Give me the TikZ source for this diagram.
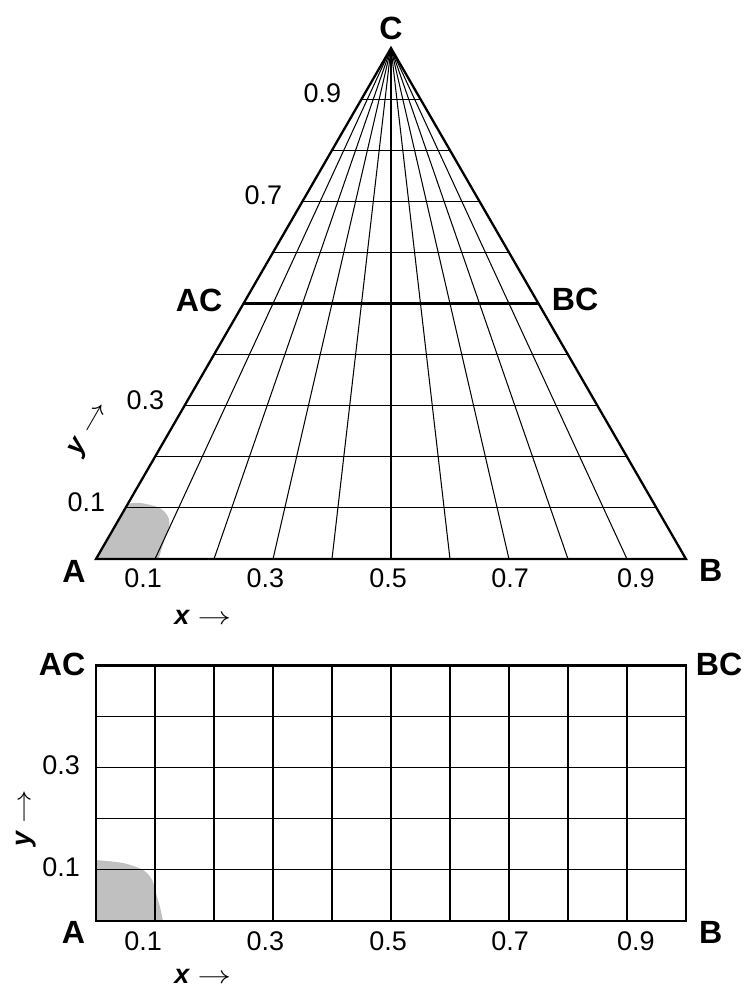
\documentclass[tikz,border=0pt]{standalone}
\usepackage{fontspec}
\usepackage{graphicx}
\setmainfont{Liberation Sans}
\definecolor{blobgray}{RGB}{192,192,192}
\newcommand{\axarrow}{\scalebox{1.35}[1]{$\rightarrow$}}

\begin{document}
\begin{tikzpicture}[
    x=1cm,
    y=1cm,
    line cap=butt,
    every node/.style={font=\fontsize{13}{15}\selectfont},
    corner/.style={font=\fontsize{15.5}{18}\selectfont\bfseries},
    grid/.style={line width=0.5pt},
    frame/.style={line width=1.1pt}
]

\useasboundingbox (-1.627,-7.271) rectangle (11.0,9.475);

% Triangle: gray region at A
\fill[blobgray] (0,0) -- plot[smooth] coordinates
      {(0.54,0.935) (0.75,0.95) (1.07,0.87) (1.22,0.72) (1.24,0.55) (1.16,0.32) (1.06,0)}
      -- cycle;

% Horizontal lines of the triangle
\foreach \t in {0.1,0.2,0.3,0.4,0.6,0.7,0.8,0.9}{
    \draw[grid] (5*\t,8.66*\t) -- (10-5*\t,8.66*\t);
}

% Lines from the base to C
\foreach \x in {1,...,9}{
    \draw[grid] (\x,0) -- (5,8.66);
}

% Border and the AC--BC line
\draw[frame,line join=miter] (0,0) -- (10,0) -- (5,8.66) -- cycle;
\draw[frame] (2.5,4.33) -- (7.5,4.33);

% Corner labels
\node[corner] (A) at (-0.373,-0.203) {A};
\node[corner] (B) at (10.42,-0.186) {B};
\node[corner] (C) at (5.0,9.0) {C};
\node[corner] (AC) at (1.746,4.39) {AC};
\node[corner] (BC) at (8.12,4.407) {BC};

% y values along AC
\foreach \t in {0.1,0.3,0.7,0.9}{
    \node[anchor=east] (ty\t) at (5*\t-0.22,8.66*\t+0.1) {\t};
}

% x values along the base
\foreach \v/\p in {0.1/0.8,0.3/2.87,0.5/4.95,0.7/7.02,0.9/9.15}{
    \node (tx\v) at (\p,-0.33) {\v};
}

% Axis labels
\node (txlab) at (1.81,-0.983) {\textbf{\textit{x}} \axarrow};
\node[rotate=60] (tylab) at (-0.1,2.2) {\textbf{\textit{y}} \axarrow};

% Rectangle
\begin{scope}[yshift=-6.136cm]

% Gray region at A
\fill[blobgray] (0,0) -- plot[smooth] coordinates
      {(0,1.034) (0.46,0.983) (0.8,0.864) (0.95,0.7) (1.0,0.525) (1.085,0.237) (1.136,0)}
      -- cycle;

% Grid
\foreach \x in {1,...,9}{
    \draw[grid] (\x,0) -- (\x,4.33);
}
\foreach \y in {1,...,4}{
    \draw[grid] (0,0.866*\y) -- (10,0.866*\y);
}

% Border
\draw[frame] (0,0) rectangle (10,4.33);

% Corner labels
\node[corner] (rA) at (-0.38,-0.19) {A};
\node[corner] (rB) at (10.42,-0.19) {B};
\node[corner] (rAC) at (-0.576,4.35) {AC};
\node[corner] (rBC) at (10.56,4.35) {BC};

% y values
\foreach \v/\y in {0.1/1,0.3/3}{
    \node[anchor=east] (ry\v) at (-0.15,0.866*\y+0.04) {\v};
}

% x values
\foreach \v/\p in {0.1/0.8,0.3/2.87,0.5/4.95,0.7/7.02,0.9/9.15}{
    \node (rx\v) at (\p,-0.34) {\v};
}

% Axis labels
\node (rxlab) at (1.81,-0.93) {\textbf{\textit{x}} \axarrow};
\node[rotate=90] (rylab) at (-1.186,1.746) {\textbf{\textit{y}} \axarrow};

\end{scope}

\end{tikzpicture}
\end{document}
